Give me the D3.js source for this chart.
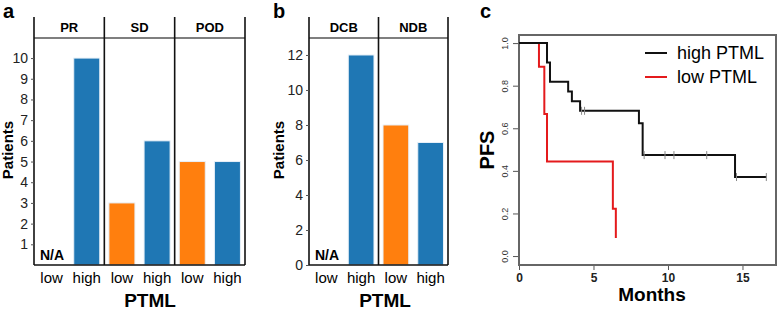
<!DOCTYPE html>
<html>
<head>
<meta charset="utf-8">
<script src="https://cdn.jsdelivr.net/npm/d3@7"></script>
<style>
  body { margin: 0; background: #fff; }
  svg { display: block; font-family: "Liberation Sans", Arial, sans-serif; }
</style>
</head>
<body>
<svg id="chart"></svg>
<script>
// panel a
const groupsA = ["PR", "SD", "POD"];
const levels = ["low", "high"];
const valuesA = [[null, 10], [3, 6], [5, 5]];
const ticksA = [1, 2, 3, 4, 5, 6, 7, 8, 9, 10];
// panel b
const groupsB = ["DCB", "NDB"];
const valuesB = [[null, 12], [8, 7]];
const ticksB = [0, 2, 4, 6, 8, 10, 12];
// panel c (Kaplan-Meier)
const highTimes = [0, 1.88, 2.08, 3.3, 3.55, 4.1, 8.05, 8.3, 14.5, 16.6];
const highSurv = [1.0, 0.909, 0.818, 0.773, 0.727, 0.682, 0.624, 0.474, 0.371, 0.371];
const highCensor = [4.2, 4.4, 8.4, 9.8, 10.4, 12.6, 14.6, 16.6];
const lowTimes = [0, 1.34, 1.7, 1.88, 6.3, 6.5];
const lowSurv = [1.0, 0.889, 0.667, 0.444, 0.222, 0.085];
const kmXTicks = [0, 5, 10, 15];
const kmYTicks = [0, 0.2, 0.4, 0.6, 0.8, 1.0];

const W = 778, H = 312;
const colorOf = { low: "#ff7f0e", high: "#1f77b4" };

const svg = d3.select("#chart").attr("width", W).attr("height", H);

function drawBarPanel(opt) {
  const { left, right, top, header, bottom, groups, values, ticks, yMax, letter, letterX, ylabX, ptmlX } = opt;
  const facetW = (right - left) / groups.length;
  const y = d3.scaleLinear().domain([0, yMax]).range([bottom, header]);
  const xFacet = d3.scaleBand().domain(groups).range([left, right]);
  const xInner = d3.scaleBand().domain(levels).range([0, facetW]).paddingInner(0.26).paddingOuter(0.13);

  const g = svg.append("g");

  // bars
  groups.forEach((grp, i) => {
    const fx = xFacet(grp);
    const rows = levels.map((lv, j) => ({ lv, v: values[i][j] }));
    g.selectAll(null)
      .data(rows.filter(d => d.v != null))
      .enter().append("rect")
      .attr("x", d => fx + xInner(d.lv))
      .attr("y", d => y(d.v))
      .attr("width", xInner.bandwidth())
      .attr("height", d => y(0) - y(d.v))
      .attr("fill", d => colorOf[d.lv])
      .attr("stroke", "#e8f0f8")
      .attr("stroke-width", 1);

    rows.filter(d => d.v == null).forEach(d => {
      g.append("text")
        .attr("x", fx + 6)
        .attr("y", bottom - 5)
        .style("font-size", "14px")
        .style("font-weight", "bold")
        .text("N/A");
    });

    // strip label
    g.append("text")
      .attr("x", fx + facetW / 2)
      .attr("y", 32)
      .attr("text-anchor", "middle")
      .style("font-size", "13px")
      .style("font-weight", "bold")
      .text(grp);

    // category labels
    levels.forEach(lv => {
      g.append("text")
        .attr("x", fx + xInner(lv) + xInner.bandwidth() / 2)
        .attr("y", 283)
        .attr("text-anchor", "middle")
        .style("font-size", "15px")
        .text(lv);
    });
  });

  // facet frame
  g.append("line")
    .attr("x1", left).attr("x2", right)
    .attr("y1", header).attr("y2", header)
    .attr("stroke", "#555").attr("stroke-width", 1.5);
  d3.range(groups.length + 1).forEach(i => {
    const xx = left + i * facetW;
    g.append("line")
      .attr("x1", xx).attr("x2", xx)
      .attr("y1", top).attr("y2", bottom)
      .attr("stroke", "#111").attr("stroke-width", 1.6);
  });
  g.append("line")
    .attr("x1", left).attr("x2", right)
    .attr("y1", bottom).attr("y2", bottom)
    .attr("stroke", "#111").attr("stroke-width", 1.6);

  // y axis
  const ax = g.append("g")
    .attr("transform", `translate(${left},0)`)
    .call(d3.axisLeft(y).tickValues(ticks).tickSize(3).tickPadding(3));
  ax.select(".domain").remove();
  ax.selectAll("text").style("font-size", "14px").attr("fill", "#222")
    .style("font-family", "'Liberation Sans', Arial, sans-serif");
  ax.selectAll("line").attr("stroke", "#555");

  // titles
  svg.append("text")
    .attr("transform", `translate(${ylabX},150) rotate(-90)`)
    .attr("text-anchor", "middle")
    .style("font-size", "15px")
    .style("font-weight", "bold")
    .text("Patients");
  svg.append("text")
    .attr("x", ptmlX).attr("y", 307)
    .attr("text-anchor", "middle")
    .style("font-size", "19px")
    .style("font-weight", "bold")
    .text("PTML");
  svg.append("text")
    .attr("x", letterX).attr("y", 18)
    .style("font-size", "20px")
    .style("font-weight", "bold")
    .text(letter);
}

drawBarPanel({
  left: 34, right: 245, top: 17, header: 38, bottom: 265,
  groups: groupsA, values: valuesA, ticks: ticksA, yMax: 10.97,
  letter: "a", letterX: 3, ylabX: 13, ptmlX: 150
});
drawBarPanel({
  left: 309, right: 448, top: 17, header: 38, bottom: 265,
  groups: groupsB, values: valuesB, ticks: ticksB, yMax: 12.97,
  letter: "b", letterX: 273, ylabX: 284, ptmlX: 385
});

// panel c: Kaplan-Meier
const kx = d3.scaleLinear().domain([0, 17.25]).range([519, 776]);
const ky = d3.scaleLinear().domain([-0.042, 1.038]).range([265, 35]);
const gc = svg.append("g");

const yAx = gc.append("g").attr("transform", "translate(519,0)")
  .call(d3.axisLeft(ky).tickValues(kmYTicks).tickSize(6).tickFormat(d3.format(".1f")));
yAx.select(".domain").remove();
yAx.selectAll("line").attr("stroke", "#555");
yAx.selectAll("text")
  .attr("x", 0).attr("dy", null)
  .attr("transform", "translate(-11,0) rotate(-90)")
  .attr("text-anchor", "middle")
  .attr("fill", "#333")
  .style("font-size", "9px");

const xAx = gc.append("g").attr("transform", "translate(0,265)")
  .call(d3.axisBottom(kx).tickValues(kmXTicks).tickSize(5).tickPadding(3));
xAx.select(".domain").remove();
xAx.selectAll("line").attr("stroke", "#555");
xAx.selectAll("text").style("font-size", "12px").style("font-weight", "bold").attr("fill", "#222");

gc.append("rect")
  .attr("x", kx(0)).attr("y", ky(1.038))
  .attr("width", kx(17.25) - kx(0)).attr("height", ky(-0.042) - ky(1.038))
  .attr("fill", "none").attr("stroke", "#666").attr("stroke-width", 2);

const step = d3.line().x(d => kx(d[0])).y(d => ky(d[1])).curve(d3.curveStepAfter);
const highPts = highTimes.map((t, i) => [t, highSurv[i]]);
const lowPts = lowTimes.map((t, i) => [t, lowSurv[i]]);

gc.append("path").attr("d", step(lowPts))
  .attr("fill", "none").attr("stroke", "#e41a1c").attr("stroke-width", 2);
gc.append("path").attr("d", step(highPts))
  .attr("fill", "none").attr("stroke", "#111").attr("stroke-width", 2);

const survAt = t => {
  let s = highSurv[0];
  highTimes.forEach((ht, i) => { if (ht <= t) s = highSurv[i]; });
  return s;
};
gc.selectAll(null).data(highCensor).enter().append("line")
  .attr("x1", d => kx(d)).attr("x2", d => kx(d))
  .attr("y1", d => ky(survAt(d)) - 4).attr("y2", d => ky(survAt(d)) + 4)
  .attr("stroke", "#888").attr("stroke-width", 1);

// legend
const legendItems = [["high PTML", "#111"], ["low PTML", "#e41a1c"]];
legendItems.forEach(([name, col], i) => {
  const ly = 53 + i * 24;
  gc.append("line").attr("x1", 645).attr("x2", 667).attr("y1", ly).attr("y2", ly)
    .attr("stroke", col).attr("stroke-width", 2);
  gc.append("text").attr("x", 677).attr("y", ly + 6)
    .style("font-size", "18px").text(name);
});

svg.append("text")
  .attr("x", 652).attr("y", 301)
  .attr("text-anchor", "middle")
  .style("font-size", "19px").style("font-weight", "bold")
  .text("Months");
svg.append("text")
  .attr("transform", "translate(494,150) rotate(-90)")
  .attr("text-anchor", "middle")
  .style("font-size", "20px").style("font-weight", "bold")
  .text("PFS");
svg.append("text")
  .attr("x", 480).attr("y", 18)
  .style("font-size", "20px").style("font-weight", "bold")
  .text("c");
</script>
</body>
</html>
